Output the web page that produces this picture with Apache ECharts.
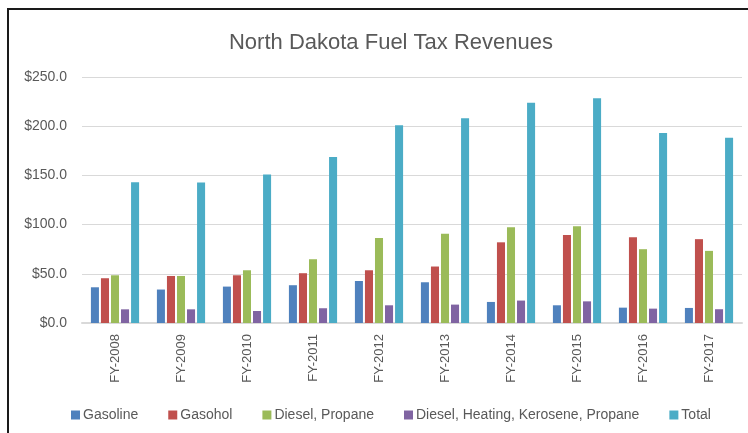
<!DOCTYPE html>
<html>
<head>
<meta charset="utf-8">
<script src="https://cdn.jsdelivr.net/npm/echarts@6/dist/echarts.min.js"></script>
<style>
  html, body { margin: 0; padding: 0; background: #fff; }
  #chart { width: 748px; height: 433px; }
  #frame {
    position: absolute; left: 7px; top: 8px; width: 760px; height: 440px;
    border-left: 2px solid #1a1a1a; border-top: 2px solid #1a1a1a;
    pointer-events: none;
  }
</style>
</head>
<body>
<div id="chart"></div>
<div id="frame"></div>
<script>
// fiscal years
const years = ["FY-2008", "FY-2009", "FY-2010", "FY-2011", "FY-2012",
  "FY-2013", "FY-2014", "FY-2015", "FY-2016", "FY-2017"];

// revenues, millions of dollars
const gasoline = [36.3, 34.0, 37.0, 38.4, 42.7, 41.4, 21.4, 18.0, 15.6, 15.3];
const gasohol = [45.5, 47.8, 48.5, 50.6, 53.6, 57.4, 82.0, 89.5, 87.2, 85.2];
const dieselPropane = [48.5, 47.8, 53.6, 64.8, 86.5, 90.6, 97.3, 98.4, 75.0, 73.3];
const dieselHeating = [13.9, 13.9, 12.2, 15.0, 18.0, 18.7, 22.8, 22.0, 14.6, 14.0];
const total = [143.0, 142.8, 151.0, 168.6, 201.0, 208.0, 223.8, 228.3, 193.0, 188.2];

const seriesNames = ["Gasoline", "Gasohol", "Diesel, Propane",
  "Diesel, Heating, Kerosene, Propane", "Total"];
const seriesColors = ["#4f81bd", "#c0504d", "#9bbb59", "#8064a2", "#4bacc6"];
const seriesData = [gasoline, gasohol, dieselPropane, dieselHeating, total];

const font = "'Liberation Sans', Arial, sans-serif";
const textGray = "#595959";

const chart = echarts.init(document.getElementById("chart"));
chart.setOption({
  animation: false,
  backgroundColor: "#fff",
  textStyle: { fontFamily: font },
  title: {
    text: "North Dakota Fuel Tax Revenues",
    left: 386, top: 27, textAlign: "center",
    textStyle: { fontFamily: font, fontSize: 22, fontWeight: "normal", color: textGray }
  },
  legend: {
    data: seriesNames,
    bottom: 6, left: 66,
    itemWidth: 9, itemHeight: 9, itemGap: 30,
    icon: "rect",
    textStyle: { fontFamily: font, fontSize: 14, color: textGray, padding: [0, 0, 0, -2] }
  },
  grid: { left: 82, right: 6, top: 77, bottom: 110 },
  xAxis: {
    type: "category",
    data: years,
    axisLine: { lineStyle: { color: "#d9d9d9", width: 2 } },
    axisTick: { show: false },
    axisLabel: { rotate: 90, fontSize: 13, color: textGray, margin: 11, fontFamily: font }
  },
  yAxis: {
    type: "value",
    min: 0, max: 250, interval: 50,
    axisLine: { show: false },
    axisTick: { show: false },
    splitLine: { lineStyle: { color: "#d9d9d9", width: 1 } },
    axisLabel: {
      fontSize: 14, color: textGray, margin: 15, fontFamily: font,
      formatter: v => "$" + v.toFixed(1)
    }
  },
  series: seriesNames.map((name, i) => ({
    name,
    type: "bar",
    data: seriesData[i],
    barGap: "25%",
    barCategoryGap: "27%",
    itemStyle: { color: seriesColors[i] }
  }))
});
</script>
</body>
</html>
